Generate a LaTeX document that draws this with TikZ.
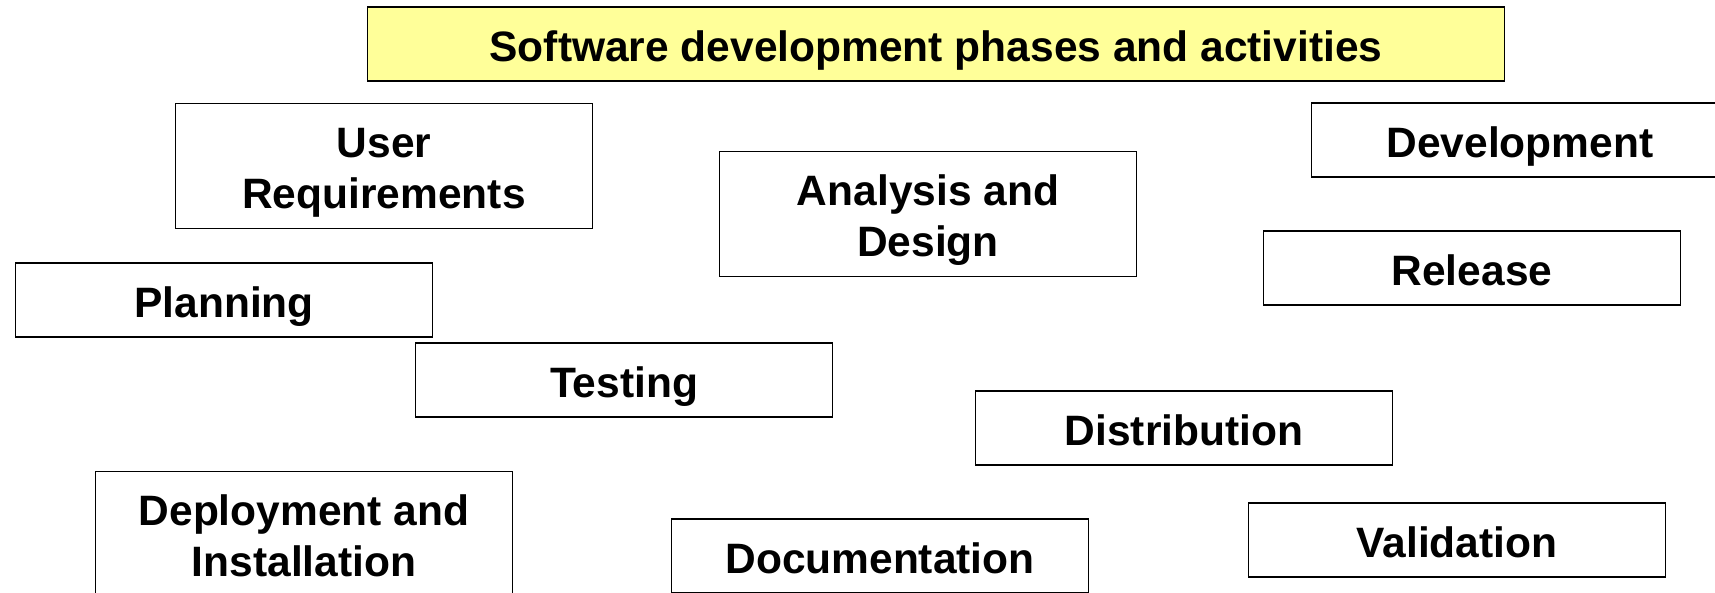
\documentclass[tikz,border=0pt]{standalone}
\usepackage{fontspec}
\setmainfont{Liberation Sans}
\definecolor{PaleYellow}{rgb}{1.0,1.0,0.6}
\usetikzlibrary{positioning}

\begin{document}
\begin{tikzpicture}[x=1pt,y=-1pt,
    phase/.style={draw, line width=1.6pt, minimum width=417pt, minimum height=74pt,
        inner sep=0pt, align=center, text height=35pt, text depth=0pt,
        font=\fontsize{42.5}{51}\selectfont\bfseries},
    twoline/.style={phase, minimum height=125pt, text height=84pt}]
    \useasboundingbox (0,0) rectangle (1715,592);
    \clip (0,0) rectangle (1715,592);
    % heading
    \node[phase, fill=PaleYellow, minimum width=1137pt]
        (title) at (936,44) {Software development phases and activities};
    % phases and activities
    \node[twoline] (userreq) at (384,166) {User\\Requirements};
    \node[twoline] (analysis) at (928,214) {Analysis and\\Design};
    \node[phase] (development) at (1520,140) {Development};
    \node[phase] (release) at (1472,268) {Release};
    \node[phase] (planning) at (224,300) {Planning};
    \node[phase] (testing) at (624,380) {Testing};
    \node[phase] (distribution) at (1184,428) {Distribution};
    \node[twoline] (deployment) at (304,534) {Deployment and\\Installation};
    \node[phase] (documentation) at (880,556) {Documentation};
    \node[phase] (validation) at (1457,540) {Validation};
\end{tikzpicture}
\end{document}
